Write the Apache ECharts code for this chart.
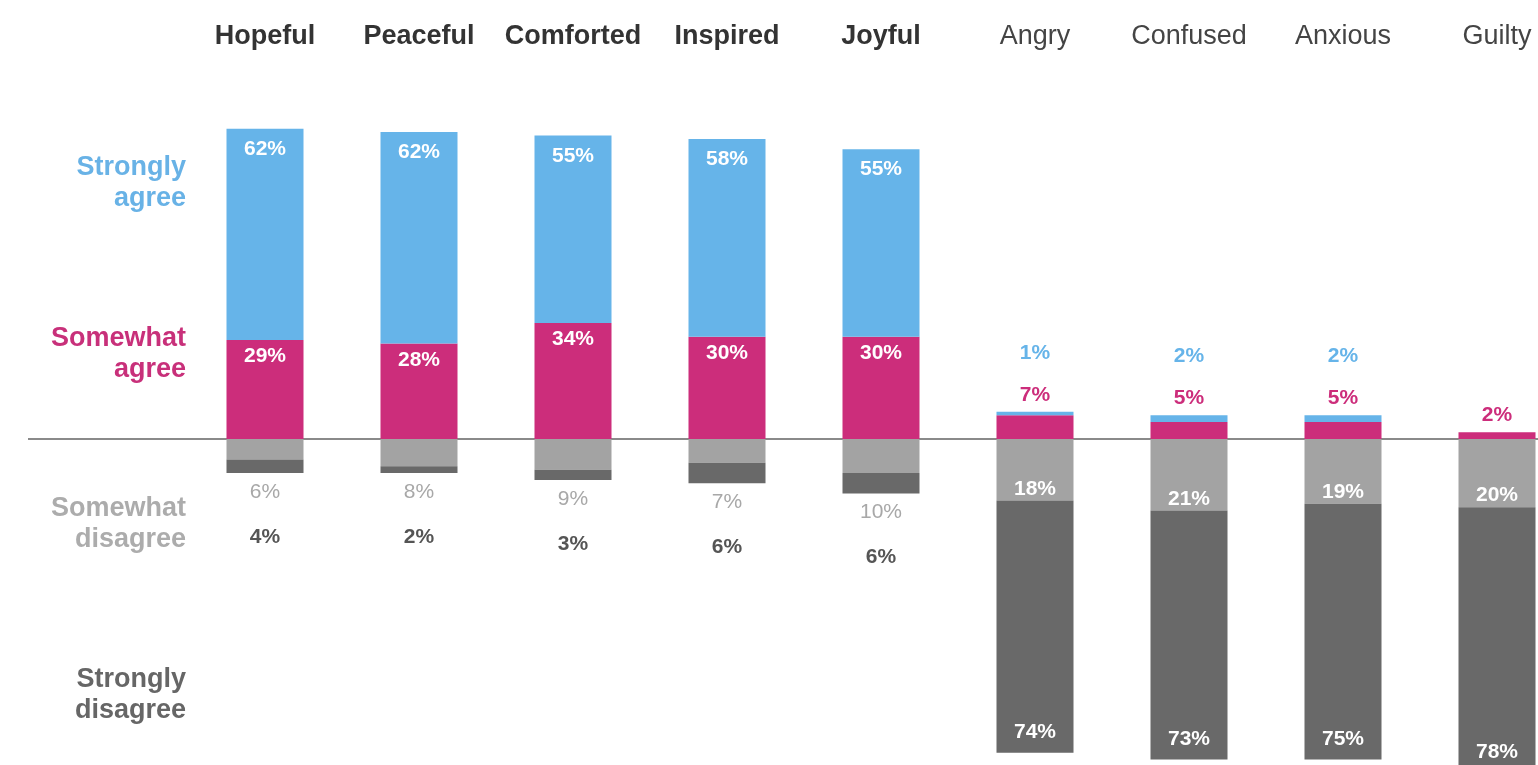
<!DOCTYPE html>
<html>
<head>
<meta charset="utf-8">
<script src="https://cdn.jsdelivr.net/npm/echarts@6/dist/echarts.min.js"></script>
<style>
html, body { margin: 0; padding: 0; background: #fff; }
#chart { width: 1538px; height: 765px; }
</style>
</head>
<body>
<div id="chart"></div>
<script>
// data
const categories = ['Hopeful', 'Peaceful', 'Comforted', 'Inspired', 'Joyful', 'Angry', 'Confused', 'Anxious', 'Guilty']
const stronglyAgree = [62, 62, 55, 58, 55, 1, 2, 2, 0]
const somewhatAgree = [29, 28, 34, 30, 30, 7, 5, 5, 2]
const somewhatDisagree = [6, 8, 9, 7, 10, 18, 21, 19, 20]
const stronglyDisagree = [4, 2, 3, 6, 6, 74, 73, 75, 78]
const rowTicks = [75, 25, -25, -75]
const rowLabels = ['Strongly\nagree', 'Somewhat\nagree', 'Somewhat\ndisagree', 'Strongly\ndisagree']

const BLUE = '#66b4e9', PINK = '#cc2d7b', LGRAY = '#a3a3a3', DGRAY = '#696969'
const rowColors = ['#68b2e6', '#c8307a', '#acacac', '#666666']
const FONT = '"Liberation Sans", Arial, sans-serif'

const isPositive = i => stronglyAgree[i] + somewhatAgree[i] > 50
const pct = v => Math.abs(v) + '%'

let chart = echarts.init(document.getElementById('chart'))

let pinkData = somewhatAgree.map((v, i) => {
    if (isPositive(i)) return {value: v, label: {show: true, position: 'insideTop', distance: 6}}
    if (!stronglyAgree[i]) return {value: v, label: {show: true, position: 'top', distance: 4,
        formatter: '{p|' + pct(v) + '}'}}
    return {value: v, label: {show: false}}
})
let blueData = stronglyAgree.map((v, i) => {
    if (isPositive(i)) return {value: v, label: {show: true, position: 'insideTop', distance: 10}}
    if (v) return {value: v, label: {show: true, position: 'top', distance: 4,
        formatter: '{b|' + pct(v) + '}\n{p|' + pct(somewhatAgree[i]) + '}'}}
    return {value: null, label: {show: false}}
})
let lgData = somewhatDisagree.map((v, i) => {
    if (isPositive(i)) return {value: -v, label: {show: false}}
    return {value: -v, label: {show: true, position: 'insideBottom', distance: 1}}
})
let dgData = stronglyDisagree.map((v, i) => {
    if (isPositive(i)) return {value: -v, label: {show: true, position: 'bottom', distance: 4,
        formatter: '{lg|' + pct(somewhatDisagree[i]) + '}\n{dg|' + pct(v) + '}'}}
    return {value: -v, label: {show: true, position: 'insideBottom', distance: 10}}
})

const baseLabel = {
    show: true,
    color: '#fff',
    fontFamily: FONT,
    fontSize: 21,
    fontWeight: 'bold',
    formatter: p => pct(p.value),
    rich: {
        b: {color: BLUE, fontFamily: FONT, fontSize: 21, fontWeight: 'bold', lineHeight: 58},
        p: {color: PINK, fontFamily: FONT, fontSize: 21, fontWeight: 'bold', lineHeight: 26},
        lg: {color: '#a8a8a8', fontFamily: FONT, fontSize: 21, fontWeight: 'normal', lineHeight: 30},
        dg: {color: '#555', fontFamily: FONT, fontSize: 21, fontWeight: 'bold', lineHeight: 60}
    }
}

function bar(name, color, data) {
    return {
        name: name,
        type: 'bar',
        stack: 'total',
        barWidth: '50%',
        itemStyle: {color: color},
        label: baseLabel,
        emphasis: {disabled: true},
        data: data
    }
}

let option = {
    animation: false,
    backgroundColor: '#fff',
    grid: {left: 188, top: 98, width: 1386, height: 682, containLabel: false, outerBoundsMode: 'none'},
    xAxis: {
        type: 'category',
        position: 'top',
        data: categories.map((c, i) => ({
            value: c,
            textStyle: {fontWeight: isPositive(i) ? 'bold' : 'normal', color: isPositive(i) ? '#333' : '#444'}
        })),
        axisLine: {show: false},
        axisTick: {show: false},
        axisLabel: {margin: 48, fontSize: 27, fontFamily: FONT, interval: 0}
    },
    yAxis: {
        type: 'value',
        min: -100,
        max: 100,
        interval: 25,
        splitLine: {show: false},
        axisLine: {show: false},
        axisTick: {show: false},
        axisLabel: {
            margin: 2,
            fontSize: 27,
            lineHeight: 31,
            fontWeight: 'bold',
            fontFamily: FONT,
            padding: [9, 0, 0, 0],
            formatter: v => {
                let i = rowTicks.indexOf(v)
                return i < 0 ? '' : rowLabels[i]
            },
            color: v => {
                let i = rowTicks.indexOf(Number(v))
                return i < 0 ? '#fff' : rowColors[i]
            }
        }
    },
    series: [
        bar('Somewhat agree', PINK, pinkData),
        bar('Strongly agree', BLUE, blueData),
        bar('Somewhat disagree', LGRAY, lgData),
        bar('Strongly disagree', DGRAY, dgData)
    ]
}
chart.setOption(option)

// baseline runs past the grid, out to the left labels
let y0 = chart.convertToPixel({yAxisIndex: 0}, 0)
chart.setOption({
    graphic: [{
        type: 'line',
        z: 0,
        shape: {x1: 28, y1: y0, x2: 1538, y2: y0},
        style: {stroke: '#8a8a8a', lineWidth: 2}
    }]
})
</script>
</body>
</html>
